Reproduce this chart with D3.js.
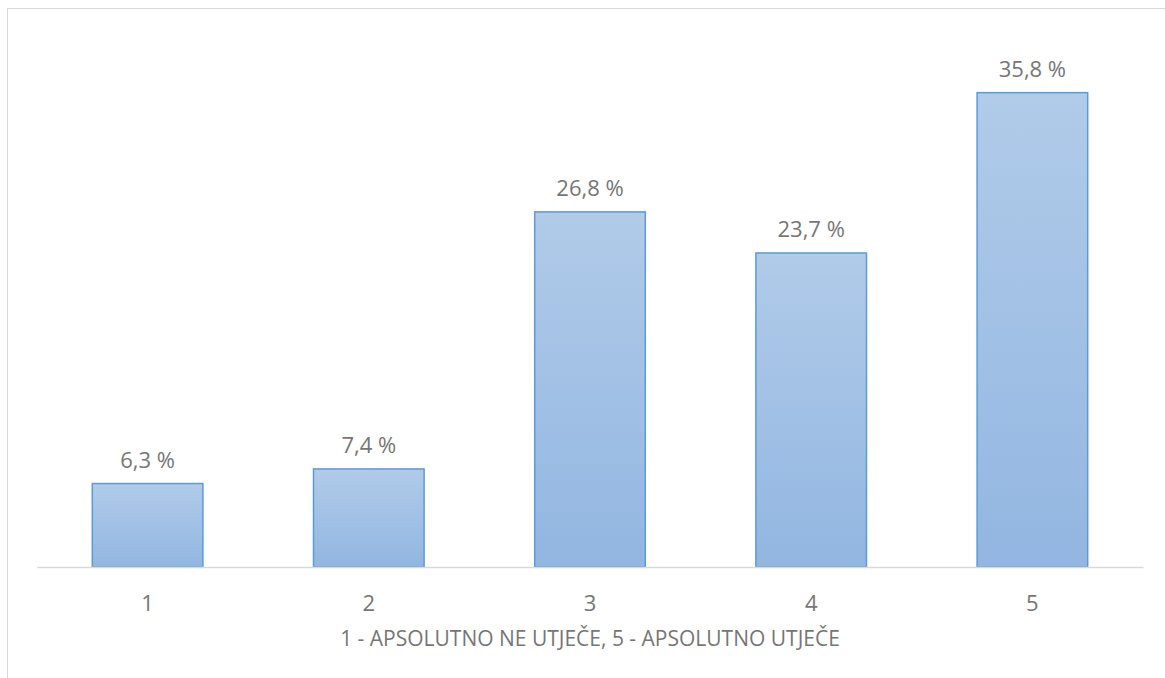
<!DOCTYPE html>
<html>
<head>
  <meta charset="utf-8">
  <script src="https://d3js.org/d3.v7.min.js"></script>
  <style>
    body { margin: 0; background: #fff; }
    svg text { font-family: "Open Sans", sans-serif; fill: #767676; }
  </style>
</head>
<body>
<div id="chart"></div>
<script>
  // data
  var categories = ["1", "2", "3", "4", "5"];
  var values = [6.3, 7.4, 26.8, 23.7, 35.8];
  var valueLabels = ["6,3 %", "7,4 %", "26,8 %", "23,7 %", "35,8 %"];
  var axisTitle = "1 - APSOLUTNO NE UTJEČE, 5 - APSOLUTNO UTJEČE";

  var W = 1165, H = 678;
  var margin = { top: 37, right: 22, bottom: 111, left: 37 },
    width = W - margin.left - margin.right,
    height = H - margin.top - margin.bottom;

  var svg = d3.select("#chart").append("svg")
    .attr("width", W)
    .attr("height", H);

  // chart border
  svg.append("rect")
    .attr("x", 7.5).attr("y", 8.5)
    .attr("width", W + 10).attr("height", H + 10)
    .attr("fill", "none")
    .attr("stroke", "#d9d9d9")
    .attr("stroke-width", 1);

  var defs = svg.append("defs");
  var grad = defs.append("linearGradient")
    .attr("id", "barGrad")
    .attr("x1", 0).attr("y1", 0).attr("x2", 0).attr("y2", 1);
  grad.append("stop").attr("offset", "0%").attr("stop-color", "#b1cbe9");
  grad.append("stop").attr("offset", "100%").attr("stop-color", "#92b6e1");

  var g = svg.append("g")
    .attr("transform", "translate(" + margin.left + "," + margin.top + ")");

  var x = d3.scaleBand()
    .domain(categories)
    .range([0, width])
    .paddingInner(0.5)
    .paddingOuter(0.25);

  var y = d3.scaleLinear()
    .domain([0, 40])
    .range([height, 0]);

  // bars
  g.selectAll(".bar")
    .data(values)
    .enter().append("rect")
    .attr("class", "bar")
    .attr("x", function (d, i) { return x(categories[i]); })
    .attr("width", x.bandwidth())
    .attr("y", function (d) { return y(d); })
    .attr("height", function (d) { return height - y(d); })
    .attr("fill", "url(#barGrad)")
    .attr("stroke", "#5b9bd5")
    .attr("stroke-width", 1.5);

  // value labels
  g.selectAll(".lbl")
    .data(values)
    .enter().append("text")
    .attr("class", "lbl")
    .attr("x", function (d, i) { return x(categories[i]) + x.bandwidth() / 2; })
    .attr("y", function (d) { return y(d) - 16; })
    .attr("text-anchor", "middle")
    .style("font-size", "22px")
    .text(function (d, i) { return valueLabels[i]; });

  // x axis
  var xAxis = g.append("g")
    .attr("transform", "translate(0," + height + ")")
    .call(d3.axisBottom(x).tickSize(0).tickPadding(0));
  xAxis.select(".domain").attr("stroke", "#d9d9d9").attr("stroke-width", 1.5);
  xAxis.selectAll("text")
    .attr("dy", null)
    .attr("y", 44)
    .style("font-size", "22px")
    .style("fill", "#767676")
    .style("font-family", "'Open Sans', sans-serif");

  // axis title
  g.append("text")
    .attr("x", width / 2)
    .attr("y", height + 79)
    .attr("text-anchor", "middle")
    .style("font-size", "21px")
    .text(axisTitle);
</script>
</body>
</html>
